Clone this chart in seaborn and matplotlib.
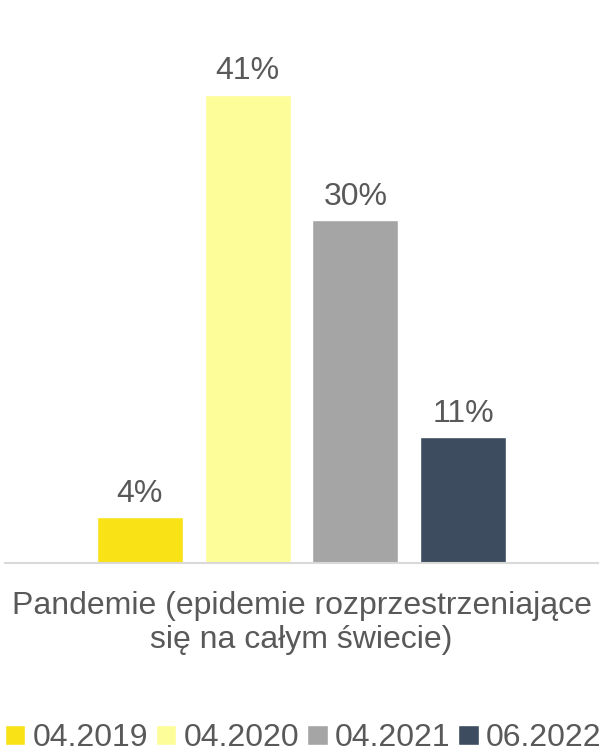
import pandas as pd
import seaborn as sns
import matplotlib.pyplot as plt

# data
category = ["Pandemie (epidemie rozprzestrzeniające\nsię na całym świecie)"]
periods = ["04.2019", "04.2020", "04.2021", "06.2022"]
values = [4, 41, 30, 11]
colors = ["#F9E216", "#FDFD99", "#A5A5A5", "#3D4C5F"]

df = pd.DataFrame({
    "category": category * len(periods),
    "period": periods,
    "value": values,
})

sns.set_style("white")
plt.rcParams["font.family"] = ["Liberation Sans", "DejaVu Sans"]
text_color = "#595959"

fig = plt.figure(figsize=(6, 7.52), dpi=100)
ax = fig.add_axes([5 / 600, 189 / 752, 593 / 600, 563 / 752])

sns.barplot(data=df, x="category", y="value", hue="period", palette=colors,
            width=0.727, gap=0.2, ax=ax, saturation=1)

ax.set_ylim(0, 49.3)
ax.set_xlim(-0.5, 0.5)
ax.set_yticks([])
ax.set_xlabel("")
ax.set_ylabel("")
for s in ["top", "left", "right"]:
    ax.spines[s].set_visible(False)
ax.spines["bottom"].set_color("#D9D9D9")
ax.spines["bottom"].set_linewidth(1.5)
ax.tick_params(axis="x", length=0, pad=20, labelsize=23, labelcolor=text_color)
for lbl in ax.get_xticklabels():
    lbl.set_linespacing(1.2)

# value labels
for cont in ax.containers:
    ax.bar_label(cont, labels=[f"{v:.0f}%" for v in cont.datavalues],
                 padding=6, fontsize=23, color=text_color)

sns.move_legend(ax, "lower center", bbox_to_anchor=(0.505, -0.04),
                bbox_transform=fig.transFigure, ncol=4, frameon=False,
                title=None, fontsize=23, handlelength=0.65, handleheight=0.6,
                handletextpad=0.22, columnspacing=0.24, labelcolor=text_color)

fig.savefig("out.png", dpi=100)
